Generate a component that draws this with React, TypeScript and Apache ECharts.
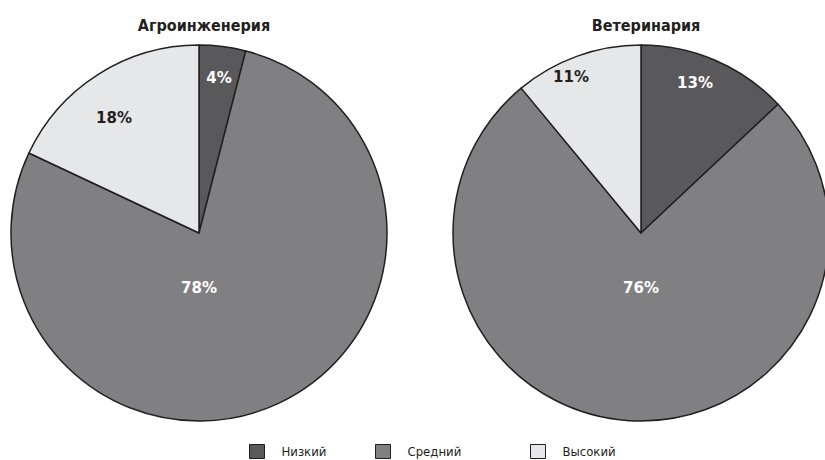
import React, { useEffect, useRef } from 'react';
import * as echarts from 'echarts';

const categories = ['Низкий', 'Средний', 'Высокий'];
const titles = ['Агроинженерия', 'Ветеринария'];
const agroValues = [4, 78, 18];
const vetValues = [13, 76, 11];
const seriesValues = [agroValues, vetValues];

const COLORS = ['#59595b', '#808083', '#e6e7e8'];
const LABEL_COLORS = ['#ffffff', '#ffffff', '#231f20'];
const CENTERS: number[][] = [[199, 233], [641, 233]];
const RADIUS = 188;
const LABEL_OFFSETS: number[][][] = [
  [[20, -155], [0, 55], [-85, -115]],
  [[54, -150], [0, 55], [-70, -156]],
];
const LEGEND_LEFT = [249, 375, 530];
const NARROW = "'Liberation Sans Narrow', 'DejaVu Sans Condensed', 'Roboto', sans-serif";
const NUM = "'DejaVu Sans', sans-serif";
const INK = '#231f20';

export default function App() {
  const ref = useRef<HTMLDivElement>(null);
  useEffect(() => {
    if (!ref.current) return;
    const chart = echarts.init(ref.current, undefined, { renderer: 'svg' });
    chart.setOption({
      animation: false,
      backgroundColor: '#ffffff',
      title: titles.map((t, i) => ({
        text: t,
        left: CENTERS[i][0],
        top: 12,
        textAlign: 'center',
        textStyle: { fontFamily: NARROW, fontWeight: 'bold', fontSize: 16, color: INK },
      })),
      legend: categories.map((c, j) => ({
        data: [c],
        left: LEGEND_LEFT[j],
        top: 444,
        padding: 0,
        icon: 'rect',
        itemWidth: 15,
        itemHeight: 14,
        selectedMode: false,
        itemStyle: { borderColor: INK, borderWidth: 1 },
        textStyle: { fontFamily: NARROW, fontSize: 13, color: INK, padding: [0, 0, 0, 12] },
      })),
      series: seriesValues.map((vals, i) => ({
        type: 'pie',
        center: CENTERS[i],
        radius: RADIUS,
        startAngle: 90,
        clockwise: true,
        silent: true,
        avoidLabelOverlap: false,
        emphasis: { disabled: true },
        itemStyle: { borderColor: INK, borderWidth: 1.5 },
        labelLine: { show: false },
        label: {
          show: true,
          position: 'inside',
          formatter: '{c}%',
          fontFamily: NUM,
          fontWeight: 'bold',
          fontSize: 15,
          align: 'center',
          verticalAlign: 'middle',
        },
        labelLayout: (p: any) => ({
          x: CENTERS[i][0] + LABEL_OFFSETS[i][p.dataIndex][0],
          y: CENTERS[i][1] + LABEL_OFFSETS[i][p.dataIndex][1],
          align: 'center',
          verticalAlign: 'middle',
        }),
        data: vals.map((v, j) => ({
          name: categories[j],
          value: v,
          itemStyle: { color: COLORS[j] },
          label: { color: LABEL_COLORS[j] },
        })),
      })),
    });
    return () => chart.dispose();
  }, []);
  return (
    <div
      ref={ref}
      style={{ position: 'fixed', left: 0, top: 0, width: 825, height: 460 }}
    />
  );
}
